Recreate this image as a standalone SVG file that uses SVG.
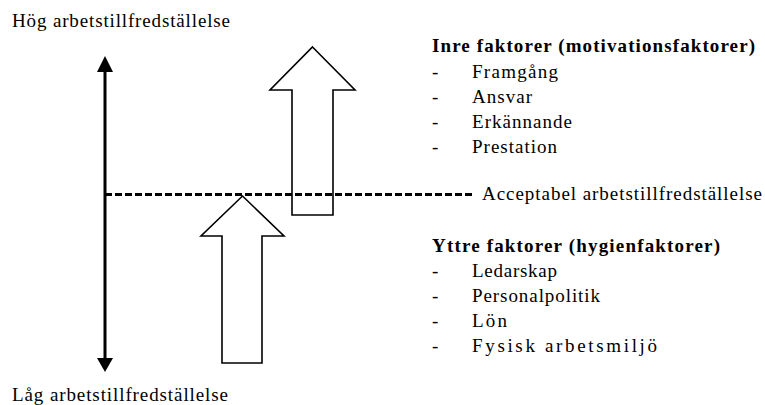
<svg xmlns="http://www.w3.org/2000/svg" width="765" height="405" viewBox="0 0 765 405">
<style>
text{font-family:"Liberation Serif","Times New Roman",serif;font-size:19px;fill:#000}
.b{font-weight:bold}
.blk{fill:#fff;stroke:#000;stroke-width:1.6}
.ax{stroke:#000;stroke-width:3;fill:none}
.dash{stroke:#000;stroke-width:3;stroke-dasharray:7 3;fill:none}
</style>
<defs>
<marker id="ah" viewBox="0 0 16 14" refX="14" refY="7" markerWidth="16" markerHeight="14" markerUnits="userSpaceOnUse" orient="auto-start-reverse">
<path d="M0,0 L16,7 L0,14 Z" fill="#000"/>
</marker>
</defs>
<rect width="765" height="405" fill="#fff"/>
<g id="label-high"><text x="12" y="27" textLength="218" lengthAdjust="spacing">Hög arbetstillfredställelse</text></g>
<g id="label-low"><text x="12" y="401" textLength="216" lengthAdjust="spacing">Låg arbetstillfredställelse</text></g>
<g id="arrow-upper"><polygon class="blk" points="312.5,47 355,90 333,90 333,215 292,215 292,90 270,90"/></g>
<g id="arrow-lower"><polygon class="blk" points="242.5,196 284,236 262,236 262,363 222,363 222,236 201,236"/></g>
<g id="connectors">
<line class="ax" x1="105" y1="72" x2="105" y2="358"/>
<path d="M105,56 L113,72 L97,72 Z" fill="#000"/>
<path d="M105,372 L113,358 L97,358 Z" fill="#000"/>
<line class="dash" x1="105" y1="194.5" x2="472" y2="194.5"/>
</g>
<g id="label-acceptable"><text x="482" y="200" textLength="280" lengthAdjust="spacing">Acceptabel arbetstillfredställelse</text></g>
<g id="inre">
<text class="b" x="432" y="52" textLength="323" lengthAdjust="spacing">Inre faktorer (motivationsfaktorer)</text>
<text x="432" y="77.5">-</text><text x="472" y="77.5" textLength="86" lengthAdjust="spacing">Framgång</text>
<text x="432" y="103">-</text><text x="472" y="103" textLength="60" lengthAdjust="spacing">Ansvar</text>
<text x="432" y="128">-</text><text x="472" y="128" textLength="100" lengthAdjust="spacing">Erkännande</text>
<text x="432" y="153">-</text><text x="472" y="153" textLength="85" lengthAdjust="spacing">Prestation</text>
</g>
<g id="yttre">
<text class="b" x="432" y="252" textLength="288" lengthAdjust="spacing">Yttre faktorer (hygienfaktorer)</text>
<text x="432" y="277">-</text><text x="472" y="277" textLength="85" lengthAdjust="spacing">Ledarskap</text>
<text x="432" y="302">-</text><text x="472" y="302" textLength="128" lengthAdjust="spacing">Personalpolitik</text>
<text x="432" y="327">-</text><text x="472" y="327" textLength="35" lengthAdjust="spacing">Lön</text>
<text x="432" y="352">-</text><text x="472" y="352" textLength="185" lengthAdjust="spacing">Fysisk arbetsmiljö</text>
</g>
</svg>
